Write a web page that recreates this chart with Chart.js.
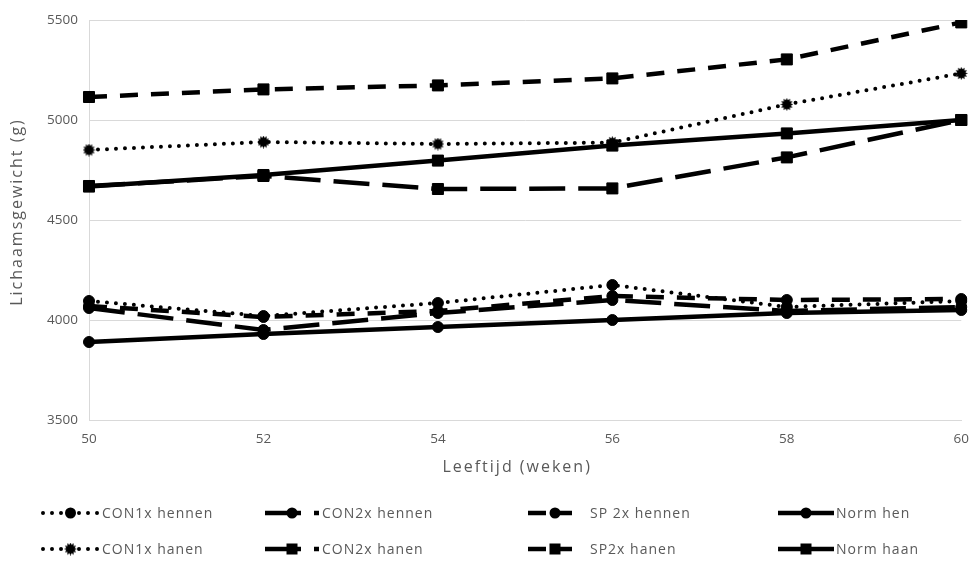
<!DOCTYPE html>
<html>
<head>
<meta charset="utf-8">
<script src="https://cdn.jsdelivr.net/npm/chart.js@4.4.1/dist/chart.umd.min.js"></script>
<style>
html, body { margin:0; padding:0; background:#fff; }
#wrap { width:980px; height:562px; position:relative; }
</style>
</head>
<body>
<div id="wrap"><canvas id="chart"></canvas></div>
<script>
// data
const weeks = [50, 52, 54, 56, 58, 60];
const yTicks = [3500, 4000, 4500, 5000, 5500];

const con1xHennen = [4095, 4020, 4085, 4175, 4065, 4095];
const con2xHennen = [4060, 3950, 4035, 4100, 4045, 4065];
const sp2xHennen  = [4070, 4015, 4045, 4120, 4100, 4105];
const normHen     = [3890, 3930, 3965, 4000, 4035, 4050];

const con1xHanen  = [4850, 4890, 4880, 4887, 5078, 5233];
const con2xHanen  = [4670, 4720, 4655, 4658, 4813, 5000];
const sp2xHanen   = [5115, 5153, 5173, 5208, 5303, 5488];
const normHaan    = [4667, 4725, 4797, 4872, 4933, 5000];

const seriesNames = ["CON1x hennen", "CON2x hennen", "SP 2x hennen", "Norm hen",
                     "CON1x hanen", "CON2x hanen", "SP2x hanen", "Norm haan"];
const xTitle = "Leeftijd (weken)";
const yTitle = "Lichaamsgewicht (g)";

const FONT = "'Open Sans', sans-serif";
const GREY = "#595959";

// burst marker for CON1x hanen
function makeBurst(size){
    const c = document.createElement("canvas");
    c.width = size; c.height = size;
    const g = c.getContext("2d");
    const cx = size/2, cy = size/2, n = 12;
    g.fillStyle = "#000";
    g.beginPath();
    for(let i=0;i<n*2;i++){
        const r = i%2===0 ? size/2 : size/2 - 2.2;
        const a = Math.PI*i/n;
        const px = cx + r*Math.cos(a), py = cy + r*Math.sin(a);
        if(i===0) g.moveTo(px,py); else g.lineTo(px,py);
    }
    g.closePath();
    g.fill();
    return c;
}
const burst = makeBurst(13);

const DOT = [0, 9];
const DASH = [18, 13];
const LONG = [36, 13];

function ds(label, data, dash, style, radius){
    return {
        label: label,
        data: data,
        borderColor: "#000",
        backgroundColor: "#000",
        borderWidth: dash === DOT ? 4 : 4.5,
        borderDash: dash,
        borderCapStyle: dash === DOT ? "round" : "butt",
        pointStyle: style,
        pointRadius: radius,
        pointHoverRadius: radius,
        pointBorderWidth: 1,
        tension: 0,
        fill: false
    };
}

const datasets = [
    ds(seriesNames[0], con1xHennen, DOT, "circle", 5.5),
    ds(seriesNames[1], con2xHennen, LONG, "circle", 5.5),
    ds(seriesNames[2], sp2xHennen, DASH, "circle", 5.5),
    ds(seriesNames[3], normHen, [], "circle", 5.5),
    ds(seriesNames[4], con1xHanen, DOT, burst, 6.5),
    ds(seriesNames[5], con2xHanen, LONG, "rect", 7.8),
    ds(seriesNames[6], sp2xHanen, DASH, "rect", 7.8),
    ds(seriesNames[7], normHaan, [], "rect", 7.8)
];

// legend in a 4x2 grid like the original
const legendSampleX = [43, 265, 528, 778];
const legendSampleW = [55, 54, 44, 56];
const legendTextX = [102, 322, 590, 836];
const legendRowY = [513, 549];

const extras = {
    id: "extras",
    afterDraw(chart){
        const ctx = chart.ctx;
        const area = chart.chartArea;
        ctx.save();
        // axis titles (spaced out like the original)
        ctx.fillStyle = GREY;
        ctx.font = "16px " + FONT;
        ctx.letterSpacing = "2px";
        ctx.textAlign = "center";
        ctx.textBaseline = "middle";
        ctx.fillText(xTitle, (area.left + area.right)/2 - 8, 467);
        ctx.save();
        ctx.translate(17, 212);
        ctx.rotate(-Math.PI/2);
        ctx.fillText(yTitle, 0, 0);
        ctx.restore();

        chart.data.datasets.forEach((d, i) => {
            const col = i % 4, row = Math.floor(i / 4);
            const x0 = legendSampleX[col], w = legendSampleW[col], y = legendRowY[row];
            ctx.strokeStyle = "#000";
            ctx.lineWidth = d.borderWidth;
            ctx.lineCap = d.borderCapStyle;
            ctx.setLineDash(d.borderDash);
            ctx.beginPath();
            ctx.moveTo(x0, y);
            ctx.lineTo(x0 + w, y);
            ctx.stroke();
            ctx.setLineDash([]);
            const mx = x0 + w/2 + (col === 2 ? 5 : 0);
            ctx.fillStyle = "#000";
            if(d.pointStyle === "circle"){
                ctx.beginPath();
                ctx.arc(mx, y, 5.5, 0, Math.PI*2);
                ctx.fill();
            } else if(d.pointStyle === "rect"){
                ctx.fillRect(mx - 5.5, y - 5.5, 11, 11);
            } else {
                ctx.drawImage(d.pointStyle, mx - 6.5, y - 6.5);
            }
            ctx.fillStyle = GREY;
            ctx.font = "14px " + FONT;
            ctx.letterSpacing = "1px";
            ctx.textBaseline = "middle";
            ctx.textAlign = "left";
            ctx.fillText(d.label, legendTextX[col], y + 1);
        });
        ctx.letterSpacing = "0px";
        ctx.restore();
    }
};

chart = new Chart(document.getElementById("chart"), {
    type: "line",
    data: { labels: weeks, datasets: datasets },
    options: {
        responsive: true,
        maintainAspectRatio: false,
        animation: false,
        layout: { padding: { top: 20, right: 12, bottom: 82, left: 0 } },
        plugins: {
            legend: { display: false },
            tooltip: { enabled: false }
        },
        scales: {
            x: {
                type: "category",
                offset: false,
                grid: { display: false, drawTicks: false },
                border: { display: true, color: "#d9d9d9", width: 1 },
                ticks: { color: GREY, font: { family: FONT, size: 13.5 }, padding: 11, maxRotation: 0 },
                afterFit(scale){ scale.height = 60; }
            },
            y: {
                min: 3500,
                max: 5500,
                afterBuildTicks(scale){ scale.ticks = yTicks.map(v => ({ value: v })); },
                grid: { color: "#d9d9d9", lineWidth: 1, drawTicks: false },
                border: { display: true, color: "#d9d9d9", width: 1 },
                ticks: { color: GREY, font: { family: FONT, size: 13.5 }, padding: 11,
                         callback: v => String(v) },
                afterFit(scale){ scale.width = 89; }
            }
        }
    },
    plugins: [extras]
});
</script>
</body>
</html>
